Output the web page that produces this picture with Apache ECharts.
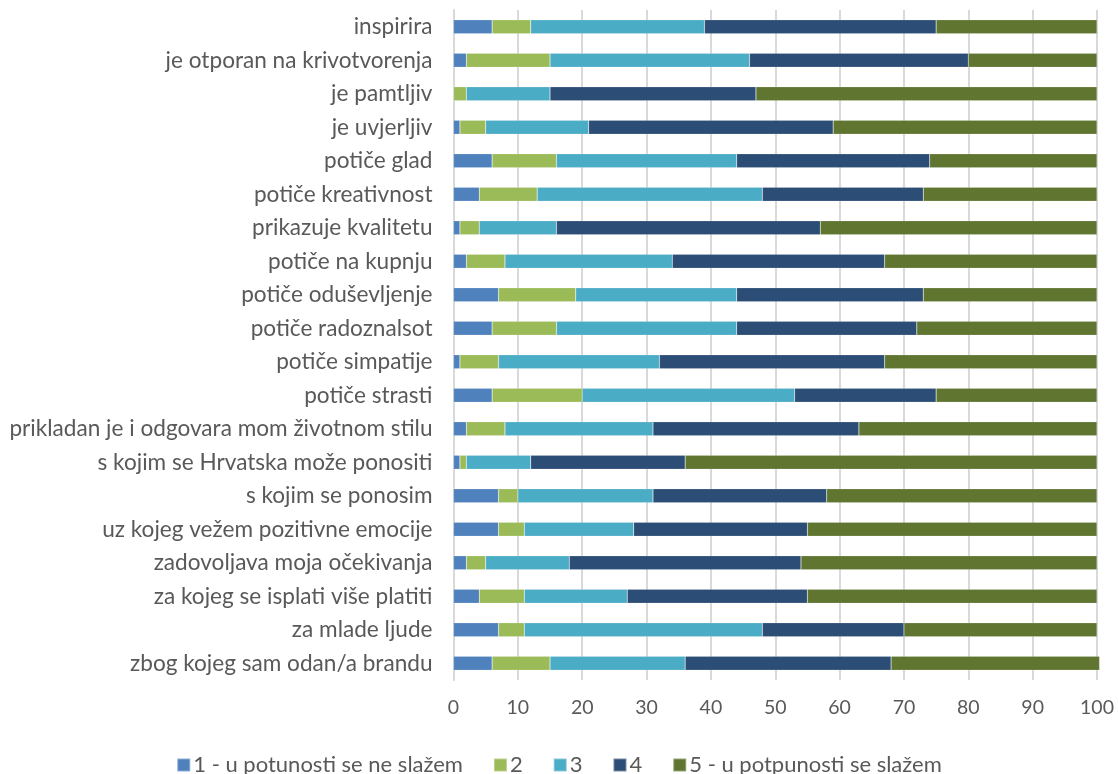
<!DOCTYPE html>
<html>
<head>
<meta charset="utf-8">
<script src="https://cdn.jsdelivr.net/npm/echarts@6/dist/echarts.min.js"></script>
<style>
  html, body { margin: 0; padding: 0; background: #ffffff; }
  #chart { width: 1118px; height: 774px; }
</style>
</head>
<body>
<div id="chart"></div>
<script>
// kategorije (odozgo prema dolje)
const categories = [
  "inspirira",
  "je otporan na krivotvorenja",
  "je pamtljiv",
  "je uvjerljiv",
  "potiče glad",
  "potiče kreativnost",
  "prikazuje kvalitetu",
  "potiče na kupnju",
  "potiče oduševljenje",
  "potiče radoznalsot",
  "potiče simpatije",
  "potiče strasti",
  "prikladan je i odgovara mom životnom stilu",
  "s kojim se Hrvatska može ponositi",
  "s kojim se ponosim",
  "uz kojeg vežem pozitivne emocije",
  "zadovoljava moja očekivanja",
  "za kojeg se isplati više platiti",
  "za mlade ljude",
  "zbog kojeg sam odan/a brandu"
];

const seriesNames = ["1 - u potunosti se ne slažem", "2", "3", "4", "5 - u potpunosti se slažem"];

const ocjena1 = [6, 2, 0, 1, 6, 4, 1, 2, 7, 6, 1, 6, 2, 1, 7, 7, 2, 4, 7, 6];
const ocjena2 = [6, 13, 2, 4, 10, 9, 3, 6, 12, 10, 6, 14, 6, 1, 3, 4, 3, 7, 4, 9];
const ocjena3 = [27, 31, 13, 16, 28, 35, 12, 26, 25, 28, 25, 33, 23, 10, 21, 17, 13, 16, 37, 21];
const ocjena4 = [36, 34, 32, 38, 30, 25, 41, 33, 29, 28, 35, 22, 32, 24, 27, 27, 36, 28, 22, 32];
const ocjena5 = [25, 20, 53, 41, 26, 27, 43, 33, 27, 28, 33, 25, 37, 64, 42, 45, 46, 45, 30, 32.4];

const xTicks = [0, 10, 20, 30, 40, 50, 60, 70, 80, 90, 100];

const colors = ["#4f81bd", "#9bbb59", "#4bacc6", "#2c4d75", "#5f7530"];
const allValues = [ocjena1, ocjena2, ocjena3, ocjena4, ocjena5];

const font = "Lato, 'Open Sans', sans-serif";

var chart = echarts.init(document.getElementById("chart"));

const series = seriesNames.map((name, i) => ({
  name: name,
  type: "bar",
  stack: "ukupno",
  barWidth: 14,
  clip: false,
  itemStyle: { color: colors[i], borderColor: "rgba(255,255,255,0.35)", borderWidth: 0.5 },
  emphasis: { disabled: true },
  data: allValues[i]
}));

chart.setOption({
  animation: false,
  textStyle: { fontFamily: font },
  color: colors,
  grid: { left: 453.5, right: 21, top: 10, bottom: 94, containLabel: false },
  xAxis: {
    type: "value",
    min: xTicks[0],
    max: xTicks[xTicks.length - 1],
    interval: 10,
    axisLine: { show: false },
    axisTick: { show: false },
    splitLine: { lineStyle: { color: "#d9d9d9", width: 2 } },
    axisLabel: { color: "#595959", fontSize: 19.5, margin: 18 }
  },
  yAxis: {
    type: "category",
    inverse: true,
    data: categories,
    axisLine: { show: true, lineStyle: { color: "#d9d9d9", width: 2 } },
    axisTick: { show: false },
    axisLabel: { color: "#595959", fontSize: 22.6, margin: 21 }
  },
  legend: {
    top: 749,
    left: "center",
    itemWidth: 13,
    itemHeight: 13,
    itemGap: 30,
    icon: "rect",
    textStyle: { color: "#595959", fontSize: 22, padding: [0, 0, 0, -2] },
    data: seriesNames
  },
  series: series
});
</script>
</body>
</html>
